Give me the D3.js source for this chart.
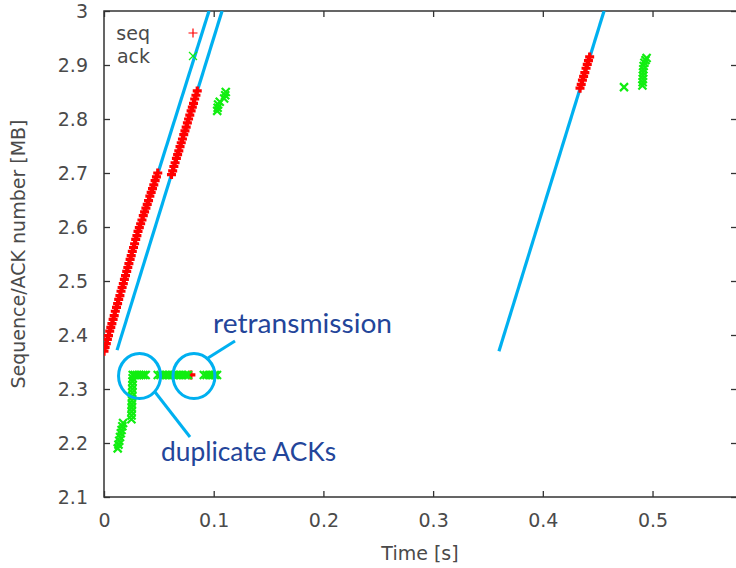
<!DOCTYPE html>
<html>
<head>
<meta charset="utf-8">
<script src="https://cdn.jsdelivr.net/npm/d3@7"></script>
<style>
  html, body { margin: 0; padding: 0; background: #fff; }
  svg { display: block; }
</style>
</head>
<body>
<svg id="chart" width="736" height="568"></svg>
<script>
// ---- Sequence numbers sent (time in ms, value in MB) ----
const seqBurst1T = [0.0,1.0,2.1,3.1,4.1,5.2,6.2,7.2,8.3,9.3,10.3,11.4,12.4,13.4,14.5,15.5,16.5,17.6,18.6,19.6,
  20.7,21.7,22.7,23.8,24.8,25.8,26.9,27.9,28.9,30.0,31.0,32.2,33.4,34.6,35.8,37.0,38.2,39.4,40.6,41.8,
  43.0,44.2,45.4,46.6,47.8,49.0];
const seqBurst1MB = [2.370,2.377,2.384,2.392,2.399,2.407,2.414,2.421,2.429,2.436,2.444,2.451,2.458,2.466,2.473,2.481,2.488,2.495,2.503,2.510,
  2.518,2.525,2.532,2.540,2.547,2.555,2.562,2.569,2.577,2.584,2.592,2.599,2.606,2.613,2.621,2.628,2.635,2.642,2.649,2.657,
  2.664,2.671,2.678,2.686,2.693,2.700];
const seqBurst2T = [61.5,62.6,63.7,64.8,66.0,67.1,68.2,69.3,70.4,71.5,72.7,73.8,74.9,76.0,77.1,78.2,79.4,80.5,81.6,82.7,83.8,85.0];
const seqBurst2MB = [2.697,2.704,2.712,2.719,2.727,2.734,2.741,2.749,2.756,2.763,2.771,2.778,2.785,2.793,2.800,2.807,2.815,2.822,2.829,2.837,2.844,2.852];
const seqRetransT = [79.2];
const seqRetransMB = [2.326];
const seqBurst3T = [433.9,435.0,436.1,437.2,438.3,439.4,440.5,441.6,442.7];
const seqBurst3MB = [2.857,2.864,2.872,2.879,2.886,2.894,2.901,2.908,2.915];

// ---- ACK numbers received (time in ms, value in MB) ----
const ackRampT = [12.5,13.2,13.9,14.6,15.3,16.0,16.7,17.4];
const ackRampMB = [2.190,2.197,2.204,2.211,2.218,2.224,2.231,2.237];
const ackClimbT = [25.0,25.1,25.2,25.3,25.4,25.5,25.6,25.7,25.8,25.9,26.0,26.1,26.2];
const ackClimbMB = [2.244,2.251,2.258,2.265,2.272,2.279,2.286,2.293,2.300,2.307,2.314,2.320,2.326];
const ackDupT = [28.0,30.0,32.0,34.0,36.0,38.0,
  49.0,51.5,54.0,56.5,59.0,61.5,64.0,66.5,69.0,71.5,74.0,76.5,
  91.0,93.5,96.0,98.5,101.0,103.0];
const ackDupMB = [2.326,2.326,2.326,2.326,2.326,2.326,
  2.326,2.326,2.326,2.326,2.326,2.326,2.326,2.326,2.326,2.326,2.326,2.326,
  2.326,2.326,2.326,2.326,2.326,2.326];
const ackLateT = [103.2,103.6,104.0,105.5,109.5,110.5,111.0];
const ackLateMB = [2.815,2.821,2.827,2.832,2.838,2.844,2.850];
const ackTailT = [474.0,490.8,491.0,491.2,491.3,491.4,491.6,491.9,492.6,493.6,494.6];
const ackTailMB = [2.859,2.862,2.868,2.874,2.880,2.886,2.892,2.898,2.904,2.909,2.913];

// ---- Slope guide lines (start/end time in s, start/end value in MB) ----
const guideT = [[0.0492, 0.0957], [0.0119, 0.1076], [0.360, 0.4558]];
const guideMB = [[2.700, 3.000], [2.372, 3.000], [2.370, 3.000]];

// ---- Axes ----
const xTicks = [0, 0.1, 0.2, 0.3, 0.4, 0.5];
const xTickLabels = ["0", "0.1", "0.2", "0.3", "0.4", "0.5"];
const yTicks = [2.1, 2.2, 2.3, 2.4, 2.5, 2.6, 2.7, 2.8, 2.9, 3.0];
const yTickLabels = ["2.1", "2.2", "2.3", "2.4", "2.5", "2.6", "2.7", "2.8", "2.9", "3"];
const xDomain = [0, 0.577];
const yDomain = [2.1, 3.0];

// ---- Annotations (positions in data units) ----
const ringT = [0.0324, 0.0820];
const ringMB = [2.324, 2.324];
const calloutT = [[0.0948, 0.1194], [0.0465, 0.0784]];
const calloutMB = [[2.3574, 2.3889], [2.2944, 2.2111]];
const noteText = ["retransmission", "duplicate ACKs"];
const noteT = [0.0994, 0.0520];
const noteMB = [2.404, 2.1667];
const noteWidth = [179, 175];

const svg = d3.select("#chart");
const W = 736, H = 568;
const plot = { left: 104, right: 737, top: 11, bottom: 497 };

const x = d3.scaleLinear().domain(xDomain).range([plot.left, plot.right]);
const y = d3.scaleLinear().domain(yDomain).range([plot.bottom, plot.top]);

const tickFont = "'DejaVu Sans', Verdana, sans-serif";
const textGrey = "#4a4a4a";
const frameColor = "#333";
const seqColor = "#ff0000";
const ackColor = "#11ee11";
const guideColor = "#00b0f0";
const noteColor = "#23459a";

svg.append("rect").attr("width", W).attr("height", H).attr("fill", "#fff");

svg.append("defs").append("clipPath").attr("id", "plot-clip")
  .append("rect")
  .attr("x", plot.left).attr("y", plot.top)
  .attr("width", plot.right - plot.left).attr("height", plot.bottom - plot.top);

// Axes with inward ticks on all four sides
function styleAxis(g) {
  g.select(".domain").remove();
  g.selectAll(".tick line").attr("stroke", frameColor).attr("stroke-width", 1.3);
  g.selectAll(".tick text").attr("fill", textGrey)
    .style("font-family", tickFont).style("font-size", "19px");
}

svg.append("g")
  .attr("transform", `translate(0,${plot.bottom})`)
  .call(d3.axisBottom(x).tickValues(xTicks)
    .tickFormat((d, i) => xTickLabels[i])
    .tickSizeInner(-6).tickSizeOuter(0).tickPadding(16.5))
  .call(styleAxis);

svg.append("g")
  .attr("transform", `translate(0,${plot.top})`)
  .call(d3.axisTop(x).tickValues(xTicks).tickFormat("")
    .tickSizeInner(-6).tickSizeOuter(0))
  .call(styleAxis);

svg.append("g")
  .attr("transform", `translate(${plot.left},0)`)
  .call(d3.axisLeft(y).tickValues(yTicks)
    .tickFormat((d, i) => yTickLabels[i])
    .tickSizeInner(-6).tickSizeOuter(0).tickPadding(16))
  .call(styleAxis);

svg.append("g")
  .attr("transform", `translate(${plot.right},0)`)
  .call(d3.axisRight(y).tickValues(yTicks).tickFormat("")
    .tickSizeInner(-6).tickSizeOuter(0))
  .call(styleAxis);

// Plot frame
svg.append("rect")
  .attr("x", plot.left).attr("y", plot.top)
  .attr("width", plot.right - plot.left).attr("height", plot.bottom - plot.top)
  .attr("fill", "none").attr("stroke", frameColor).attr("stroke-width", 1.5);

// Axis titles
svg.append("text")
  .attr("x", (plot.left + 736) / 2).attr("y", 560)
  .attr("text-anchor", "middle")
  .attr("fill", textGrey)
  .style("font-family", tickFont).style("font-size", "19px")
  .text("Time [s]");

svg.append("text")
  .attr("transform", `translate(25,${(plot.top + plot.bottom) / 2}) rotate(-90)`)
  .attr("text-anchor", "middle")
  .attr("fill", textGrey)
  .style("font-family", tickFont).style("font-size", "19px")
  .text("Sequence/ACK number [MB]");

const layer = svg.append("g").attr("clip-path", "url(#plot-clip)");

// Slope guides (drawn underneath the markers)
layer.selectAll("line.guide")
  .data(guideT.map((t, i) => ({ t, v: guideMB[i] })))
  .join("line")
  .attr("class", "guide")
  .attr("x1", d => x(d.t[0])).attr("y1", d => y(d.v[0]))
  .attr("x2", d => x(d.t[1])).attr("y2", d => y(d.v[1]))
  .attr("stroke", guideColor).attr("stroke-width", 3.2);

const plusPath = "M-4.5,0H4.5M0,-4.5V4.5";
const crossPath = "M-4,-4L4,4M-4,4L4,-4";

function pairs(ts, vs) { return ts.map((t, i) => ({ t: t / 1000, v: vs[i] })); }

const seqPoints = [].concat(
  pairs(seqBurst1T, seqBurst1MB),
  pairs(seqBurst2T, seqBurst2MB),
  pairs(seqRetransT, seqRetransMB),
  pairs(seqBurst3T, seqBurst3MB)
);
const ackPoints = [].concat(
  pairs(ackRampT, ackRampMB),
  pairs(ackClimbT, ackClimbMB),
  pairs(ackDupT, ackDupMB),
  pairs(ackLateT, ackLateMB),
  pairs(ackTailT, ackTailMB)
);

layer.selectAll("path.seq")
  .data(seqPoints)
  .join("path")
  .attr("class", "seq")
  .attr("d", plusPath)
  .attr("transform", d => `translate(${x(d.t)},${y(d.v)})`)
  .attr("fill", "none").attr("stroke", seqColor).attr("stroke-width", 3.2);

layer.selectAll("path.ack")
  .data(ackPoints)
  .join("path")
  .attr("class", "ack")
  .attr("d", crossPath)
  .attr("transform", d => `translate(${x(d.t)},${y(d.v)})`)
  .attr("fill", "none").attr("stroke", ackColor).attr("stroke-width", 2.2);

// Legend
const legend = svg.append("g");
const legendRows = [
  { label: "seq", path: plusPath, color: seqColor, cy: 33 },
  { label: "ack", path: crossPath, color: ackColor, cy: 56 }
];
legendRows.forEach(r => {
  legend.append("text")
    .attr("x", 150).attr("y", r.cy).attr("dy", "0.35em")
    .attr("text-anchor", "end")
    .attr("fill", textGrey)
    .style("font-family", tickFont).style("font-size", "19px")
    .text(r.label);
  legend.append("path")
    .attr("d", r.path)
    .attr("transform", `translate(193,${r.cy})`)
    .attr("fill", "none").attr("stroke", r.color).attr("stroke-width", 1.2);
});

// Annotation rings, callouts and notes
const notes = svg.append("g");
ringT.forEach((t, i) => {
  notes.append("ellipse")
    .attr("cx", x(t)).attr("cy", y(ringMB[i]))
    .attr("rx", 21).attr("ry", 22.5)
    .attr("fill", "none").attr("stroke", guideColor).attr("stroke-width", 3);
});
calloutT.forEach((t, i) => {
  notes.append("line")
    .attr("x1", x(t[0])).attr("y1", y(calloutMB[i][0]))
    .attr("x2", x(t[1])).attr("y2", y(calloutMB[i][1]))
    .attr("stroke", guideColor).attr("stroke-width", 3);
});
noteText.forEach((s, i) => {
  notes.append("text")
    .attr("x", x(noteT[i])).attr("y", y(noteMB[i]))
    .attr("fill", noteColor)
    .attr("textLength", noteWidth[i]).attr("lengthAdjust", "spacingAndGlyphs")
    .style("font-family", "Lato, 'Open Sans', sans-serif").style("font-size", "27.5px")
    .text(s);
});
</script>
</body>
</html>
